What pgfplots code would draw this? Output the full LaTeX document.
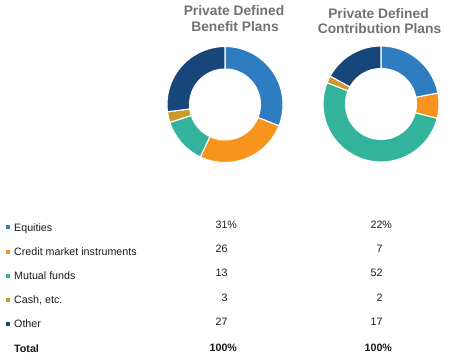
\documentclass[border=0pt]{standalone}
\usepackage{pgfplots}
\pgfplotsset{compat=1.18}
\usepackage{pgfplotstable}
\usepackage{fontspec}
\setmainfont{Liberation Sans}

\definecolor{ceq}{HTML}{2E7DC1}
\definecolor{ccr}{HTML}{F7941E}
\definecolor{cmf}{HTML}{34B39C}
\definecolor{cca}{HTML}{CC9A2A}
\definecolor{cot}{HTML}{16467A}
\colorlet{seg0}{ceq}\colorlet{seg1}{ccr}\colorlet{seg2}{cmf}\colorlet{seg3}{cca}\colorlet{seg4}{cot}
\definecolor{titlegray}{HTML}{767171}
\definecolor{txt}{HTML}{1A1A1A}

% Private Defined Benefit Plans (percent)
\pgfplotstableread{
label val
Equities 31
Credit 26
Mutual 13
Cash 3
Other 27
}\dbtable
% Private Defined Contribution Plans (percent)
\pgfplotstableread{
label val
Equities 22
Credit 7
Mutual 52
Cash 2
Other 17
}\dctable
\pgfplotstablecreatecol[create col/expr accum={\pgfmathaccuma + \thisrow{val}}{0}]{cum}{\dbtable}
\pgfplotstablecreatecol[create col/expr accum={\pgfmathaccuma + \thisrow{val}}{0}]{cum}{\dctable}

\pgfdeclareplotmark{blank}{}
\newcommand\Rout{58bp}
\newcommand\Rin{35.5bp}

\pgfplotsset{
  donut/.style={
    hide axis, width=120bp, height=120bp, xmin=-60, xmax=60, ymin=-60, ymax=60,
    scale only axis, clip=false, anchor=center,
  },
  donutplot/.style={
    only marks, scatter, mark=blank, point meta=\coordindex,
    visualization depends on={90-3.6*(\thisrow{cum}-\thisrow{val}) \as \astart},
    visualization depends on={90-3.6*\thisrow{cum} \as \aend},
    visualization depends on={\coordindex \as \segidx},
    scatter/@pre marker code/.code={
      \pgfmathtruncatemacro\k{round(\segidx)}
      \fill[fill=seg\k, draw=white, line width=1.1bp]
        (\astart:\Rout) arc[start angle=\astart, end angle=\aend, radius=\Rout]
        -- (\aend:\Rin) arc[start angle=\aend, end angle=\astart, radius=\Rin]
        -- cycle;
    },
    scatter/@post marker code/.code={},
  },
}

\begin{document}
\begin{tikzpicture}
\useasboundingbox (0bp,0bp) rectangle (451bp,361bp);

% titles
\begin{scope}[x=1bp,y=1bp,every node/.style={font=\fontsize{13.8bp}{16bp}\selectfont\bfseries, text=titlegray, anchor=base, inner sep=0pt}]
\node at (234,345.7) {Private Defined};
\node at (235,330) {Benefit Plans};
\node at (378.5,342.7) {Private Defined};
\node at (379.5,327.3) {Contribution Plans};
\end{scope}

\begin{axis}[donut, at={(225bp,256.5bp)}]
\addplot[donutplot] table[x expr=0, y expr=0] {\dbtable};
\end{axis}
\begin{axis}[donut, at={(381bp,257bp)}]
\addplot[donutplot] table[x expr=0, y expr=0] {\dctable};
\end{axis}

% table
\begin{scope}[x=1bp,y=1bp,every node/.style={font=\fontsize{10.7bp}{12bp}\selectfont, text=txt, inner sep=0pt}]
\foreach \c/\lab/\yb in {ceq/Equities/130, ccr/Credit market instruments/105.7, cmf/Mutual funds/81.5, cca/{Cash, etc.}/57.4, cot/Other/33.2}{
  \fill[\c] (6,\yb+1.7) rectangle (10,\yb+5.7);
  \node[anchor=base west] at (14,\yb) {\lab};
}
\node[anchor=base west, font=\fontsize{10.7bp}{12bp}\selectfont\bfseries] at (14,9) {Total};

\foreach \a/\b/\yb in {31/22/132.5, 26/7/108.3, 13/52/84.3, 3/2/60, 27/17/35.5}{
  \node[anchor=base east] at (227.7,\yb) {\a\ifnum\a=31 \rlap{\%}\fi};
  \node[anchor=base east] at (382.7,\yb) {\b\ifnum\b=22 \rlap{\%}\fi};
}
\node[anchor=base east, font=\fontsize{10.7bp}{12bp}\selectfont\bfseries] at (227.7,9.5) {100\rlap{\%}};
\node[anchor=base east, font=\fontsize{10.7bp}{12bp}\selectfont\bfseries] at (382.7,9.5) {100\rlap{\%}};
\end{scope}
\end{tikzpicture}
\end{document}
